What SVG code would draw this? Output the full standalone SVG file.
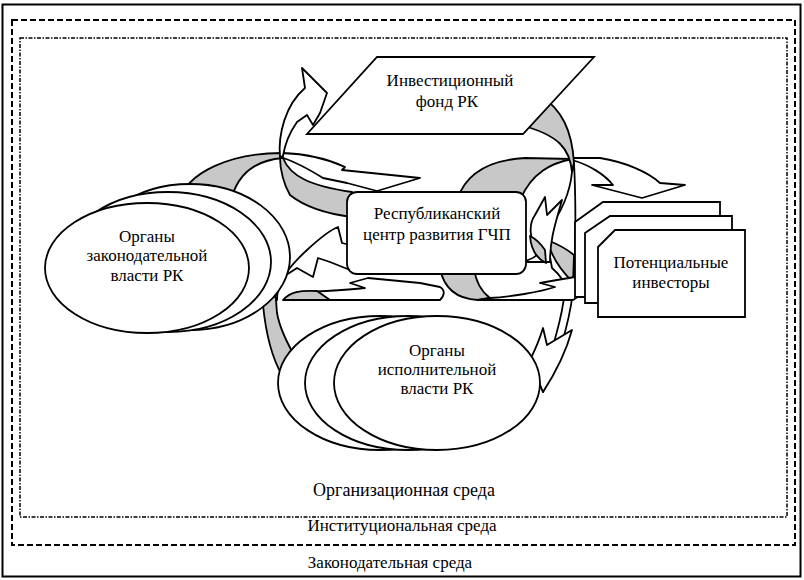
<svg xmlns="http://www.w3.org/2000/svg" width="804" height="580" viewBox="0 0 804 580">
<style>
.a{fill:#fff;stroke:#000;stroke-width:1.8;stroke-linejoin:round}
.g{fill:#c8c8c8;stroke:#000;stroke-width:1.8;stroke-linejoin:round}
.n{fill:#fff;stroke:#000;stroke-width:1.8}
text{font-family:'Liberation Serif','DejaVu Serif',serif;font-size:17px;fill:#000;text-anchor:middle}
</style>
<rect width="804" height="580" fill="#fff"/>
<g id="frames" fill="none" stroke="#000">
<rect x="2.5" y="4.5" width="798" height="572" stroke-width="2"/>
<rect x="12" y="20" width="783" height="525" stroke-width="2" stroke-dasharray="6,3"/>
<rect x="20" y="38" width="767" height="479" stroke-width="1.5" stroke-dasharray="4,1.5,1.5,1.5"/>
</g>
<g id="connectors">
<path class="g" d="M178,205 C185,170 235,153 282,153 L283,158 C258,160 236,172 230,205 Z"/>
<path class="a" d="M282,153 C310,154 330,160 345,167 L342,170 L420,178 L377,191 L347,183 L323,178 C310,170 296,162 283,158 Z"/>
<path class="g" d="M457,200 C466,172 490,160 525,158 L572,159 C552,163 532,172 520,200 Z"/>
<path class="a" d="M572,158 L600,158 C625,162 648,172 660,183 L685,185 L642,198 L592,185 L613,185 C605,175 590,165 572,160 Z"/>
<path class="g" d="M540,95 C562,110 572,130 574,163 L572,172 C570,150 560,135 520,125 Z"/>
<path class="a" d="M574,163 C576,200 576,260 573,292 C568,330 558,360 543,392 L540,385 C552,350 562,320 565,290 C566,282 560,275 552,268 L547,240 L545,235 C560,215 570,195 572,172 Z"/>
<path class="g" d="M547,240 C552,258 560,270 573,282 L574,255 C568,250 560,245 547,240 Z"/>
<path class="a" d="M520,262 C532,260 540,255 537,250 C530,240 528,225 535,215 L545,197 L547,215 L562,200 C556,222 550,238 550,262 Z"/>
<path class="g" d="M530,236 C531,250 536,258 546,263 L545,250 C541,244 536,239 530,236 Z"/>
<path class="a" d="M530,360 C536,348 540,338 543,328 L547,345 L572,330 C566,352 556,372 543,392 Z"/>
<path class="g" d="M440,268 C444,290 458,299 478,300 L490,298 C482,292 476,284 474,268 Z"/>
<path class="a" d="M478,300 L573,300 C580,296 585,290 590,287 L597,283 L575,277 L557,280 L540,283 L555,287 C540,292 510,297 490,298 Z"/>
<path class="a" d="M300,300 L440,300 C445,295 445,290 440,287 L420,283 L368,278 L350,283 L365,288 C345,290 325,291 312,292 Z"/>
<path class="g" d="M283,300 C290,292 300,290 317,291 L330,300 Z"/>
<path class="g" d="M263,305 C266,335 272,358 282,375 L297,360 C288,345 280,330 277,313 C276,302 276,295 275,290 Z"/>
<path class="a" d="M275,297 C280,277 293,263 307,250 C320,238 330,230 338,227 L342,243 L350,245 L350,270 L330,262 L318,258 L313,277 L297,268 L283,277 C279,285 277,292 277,300 Z"/>
<path class="g" d="M283,158 C290,176 310,186 352,192 L352,217 C320,213 300,203 290,195 C284,185 280,170 280,158 Z"/>
<path class="a" d="M280,157 C278,135 285,105 305,88 L302,68 L327,93 L320,113 L313,125 L307,115 L297,122 C290,132 285,143 283,156 Z"/>
</g>
<g id="node-legislative">
<ellipse class="n" cx="190" cy="257" rx="100" ry="73"/>
<ellipse class="n" cx="168" cy="262" rx="103" ry="70"/>
<ellipse class="n" cx="147" cy="268" rx="102" ry="65"/>
<text x="147" y="242">Органы</text>
<text x="147" y="261">законодательной</text>
<text x="147" y="281">власти РК</text>
</g>
<g id="node-executive">
<ellipse class="n" cx="380" cy="383" rx="102" ry="67"/>
<ellipse class="n" cx="408" cy="383" rx="103" ry="67"/>
<ellipse class="n" cx="437" cy="383" rx="103" ry="67"/>
<text x="437" y="356">Органы</text>
<text x="437" y="375">исполнительной</text>
<text x="437" y="394">власти РК</text>
</g>
<g id="node-centre">
<rect class="n" x="347" y="192" width="179" height="82" rx="10"/>
<text x="437" y="219">Республиканский</text>
<text x="437" y="240">центр развития ГЧП</text>
</g>
<g id="node-fund">
<path class="n" d="M377,57 L594,57 L523,134 L307,134 Z"/>
<text x="450" y="86">Инвестиционный</text>
<text x="447" y="107">фонд РК</text>
</g>
<g id="node-investors">
<path class="n" d="M575,222 L603,202 L720,202 L720,297 L575,297 Z"/>
<path class="n" d="M585,233 L610,216 L732,216 L732,303 L585,303 Z"/>
<path class="n" d="M598,247 L615,230 L745,230 L745,317 L598,317 Z"/>
<text x="671" y="268">Потенциальные</text>
<text x="671" y="288">инвесторы</text>
</g>
<g id="labels">
<text x="404" y="496" style="font-size:18px">Организационная среда</text>
<text x="402" y="531">Институциональная среда</text>
<text x="390" y="568">Законодательная среда</text>
</g>
</svg>
